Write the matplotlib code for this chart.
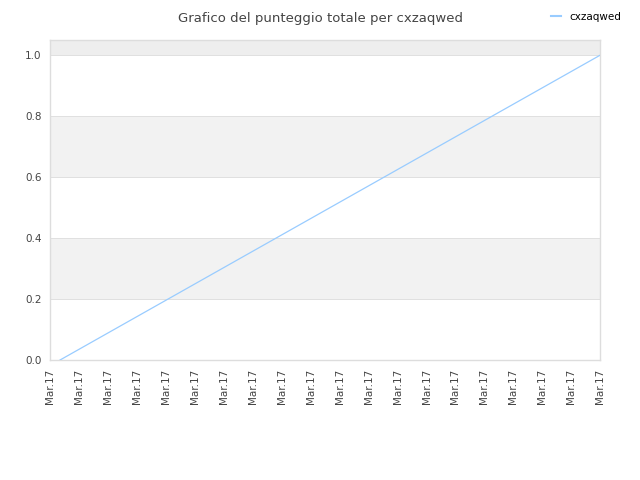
import matplotlib
matplotlib.use('Agg')
import matplotlib.pyplot as plt
from matplotlib.lines import Line2D

# data
tick_labels = ['Mar.17'] * 20
line_x = [0.35, 19]
line_y = [0.0, 1.0]
band_edges = [(0.2, 0.4), (0.6, 0.8), (1.0, 1.05)]

fig = plt.figure(figsize=(6.4, 4.8), dpi=100)
ax = fig.add_axes([0.078, 0.25, 0.86, 0.667])

for lo, hi in band_edges:
    col = '#eeeeee' if hi > 1.0 else '#f2f2f2'
    ax.axhspan(lo, hi, color=col, zorder=0, lw=0)
for yv in [0.2, 0.4, 0.6, 0.8, 1.0]:
    ax.axhline(yv, color='#e0e0e0', lw=0.7, zorder=1)

ax.plot(line_x, line_y, color='#99ccff', lw=0.9, zorder=3)

ax.set_xlim(0, 19)
ax.set_ylim(0, 1.05)
ax.set_xticks(range(len(tick_labels)))
ax.set_xticklabels(tick_labels, rotation=90, fontsize=7.5, color='#444444')
ax.set_yticks([0.0, 0.2, 0.4, 0.6, 0.8, 1.0])
ax.set_yticklabels(['0.0', '0.2', '0.4', '0.6', '0.8', '1.0'], fontsize=7.5, color='#444444')
ax.tick_params(length=0, pad=6)
for s in ax.spines.values():
    s.set_color('#dddddd')
    s.set_linewidth(1)

fig.text(0.5, 0.975, 'Grafico del punteggio totale per cxzaqwed', ha='center', va='top',
         fontsize=9.5, color='#444444')
h = Line2D([], [], color='#99ccff', lw=1.5)
fig.legend([h], ['cxzaqwed'], loc='upper right', bbox_to_anchor=(0.985, 0.995),
           frameon=False, fontsize=7.5, handlelength=0.9, handletextpad=0.8)

fig.savefig('out.png', dpi=100)
